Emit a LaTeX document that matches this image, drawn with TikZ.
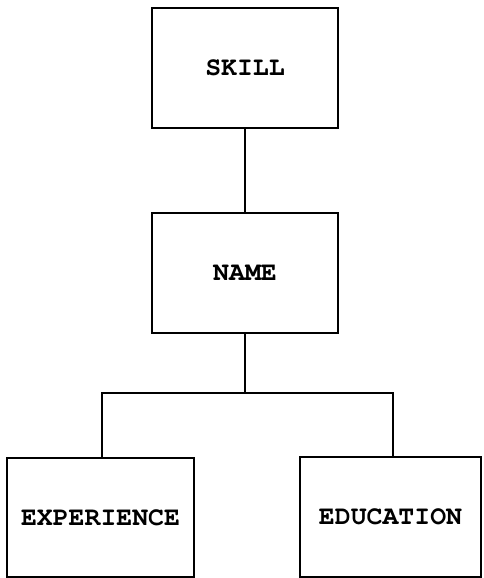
\documentclass[tikz,border=0pt]{standalone}
\usepackage{fontspec}
\setmonofont{texgyrecursor-bold.otf}
\begin{document}
\begin{tikzpicture}[x=1pt,y=-1pt,
  box/.style={draw=black,line width=2.6pt,inner sep=0pt,outer sep=0pt,
    font=\ttfamily\fontsize{26.5}{30}\selectfont},
  link/.style={draw=black,line width=2.4pt}]
\useasboundingbox (0,0) rectangle (483,578);
\node[box,minimum width=186pt,minimum height=120pt] (skill) at (245,68) {SKILL};
\node[box,minimum width=186pt,minimum height=120pt] (name) at (245,273) {NAME};
\node[box,minimum width=187pt,minimum height=119pt] (exp) at (100.5,517.5) {EXPERIENCE};
\node[box,minimum width=181pt,minimum height=120pt] (edu) at (390.5,517) {EDUCATION};
\coordinate (split) at (245,393);
\draw[link] (skill.south) -- (name.north);
\draw[link] (name.south) -- (split);
\draw[link,line join=miter] (split) -- (102,393) -- (102,458);
\draw[link,line join=miter] (split) -- (393,393) -- (393,457);
\end{tikzpicture}
\end{document}
